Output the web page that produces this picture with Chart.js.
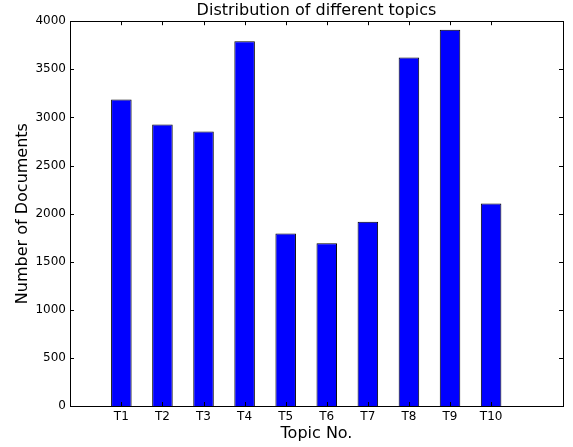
<!DOCTYPE html>
<html>
<head>
<meta charset="utf-8">
<script src="https://cdn.jsdelivr.net/npm/chart.js@4"></script>
<style>
  html, body { margin: 0; padding: 0; background: #fff; }
  #wrap { width: 573px; height: 447px; }
</style>
</head>
<body>
<div id="wrap"><canvas id="topicChart"></canvas></div>
<script>
// topic labels and document counts
var topics = ["T1", "T2", "T3", "T4", "T5", "T6", "T7", "T8", "T9", "T10"];
var barPos = [1.25, 2.25, 3.25, 4.25, 5.25, 6.25, 7.25, 8.25, 9.25, 10.25];
var docCounts = [3187, 2927, 2854, 3792, 1794, 1693, 1915, 3622, 3912, 2106];
var yTicks = [0, 500, 1000, 1500, 2000, 2500, 3000, 3500, 4000];

var FONT = "'DejaVu Sans', sans-serif";
Chart.defaults.font.family = FONT;
Chart.defaults.color = "#000";

// matplotlib style frame with inward ticks on all four sides
var frameTicks = {
  id: "frameTicks",
  afterDatasetsDraw: function(chart) {
    var c = chart.ctx, a = chart.chartArea;
    var xs = chart.scales.x, ys = chart.scales.y;
    var len = 4;
    c.save();
    c.strokeStyle = "#000";
    c.lineWidth = 1;
    c.beginPath();
    barPos.forEach(function(v) {
      var px = Math.round(xs.getPixelForValue(v)) + 0.5;
      c.moveTo(px, a.bottom); c.lineTo(px, a.bottom - len);
      c.moveTo(px, a.top); c.lineTo(px, a.top + len);
    });
    yTicks.forEach(function(v) {
      var py = Math.round(ys.getPixelForValue(v)) + 0.5;
      c.moveTo(a.left, py); c.lineTo(a.left + len, py);
      c.moveTo(a.right, py); c.lineTo(a.right - len, py);
    });
    c.stroke();
    c.strokeRect(Math.round(a.left) + 0.5, Math.round(a.top) + 0.5,
                 Math.round(a.right - a.left), Math.round(a.bottom - a.top));
    c.restore();
  }
};

var ctx = document.getElementById("topicChart");
var points = barPos.map(function(p, i) { return { x: p, y: docCounts[i] }; });

var chart = new Chart(ctx, {
  type: "bar",
  data: {
    datasets: [{
      label: "Documents",
      data: points,
      backgroundColor: "#0000ff",
      borderColor: "#000",
      borderWidth: 1,
      categoryPercentage: 1.0,
      barPercentage: 0.5
    }]
  },
  options: {
    responsive: true,
    maintainAspectRatio: false,
    animation: false,
    layout: { padding: { left: 0, right: 10, top: 0, bottom: 0 } },
    plugins: {
      legend: { display: false },
      tooltip: { enabled: false },
      title: {
        display: true,
        text: "Distribution of different topics",
        fullSize: false,
        font: { size: 16, weight: "normal" },
        color: "#000",
        padding: { top: 1, bottom: 1 }
      }
    },
    scales: {
      x: {
        type: "linear",
        offset: false,
        min: 0,
        max: 12,
        grid: { display: false, drawTicks: false, tickLength: 0 },
        border: { display: false },
        afterBuildTicks: function(scale) {
          scale.ticks = barPos.map(function(v) { return { value: v }; });
        },
        ticks: {
          autoSkip: false,
          maxRotation: 0,
          padding: 4,
          font: { size: 12 },
          callback: function(v) {
            var i = barPos.indexOf(v);
            return i >= 0 ? topics[i] : "";
          }
        },
        title: {
          display: true,
          text: "Topic No.",
          font: { size: 16 },
          padding: { top: 0, bottom: 4 }
        },
        afterFit: function(scale) { scale.height = 41; }
      },
      y: {
        min: 0,
        max: 4000,
        grid: { display: false, drawTicks: false, tickLength: 0 },
        border: { display: false },
        afterBuildTicks: function(scale) {
          scale.ticks = yTicks.map(function(v) { return { value: v }; });
        },
        ticks: {
          padding: 4,
          font: { size: 12 },
          callback: function(v) { return v; }
        },
        title: {
          display: true,
          text: "Number of Documents",
          font: { size: 16 },
          padding: { top: 13, bottom: 0 }
        },
        afterFit: function(scale) { scale.width = 70; }
      }
    }
  },
  plugins: [frameTicks]
});
</script>
</body>
</html>
